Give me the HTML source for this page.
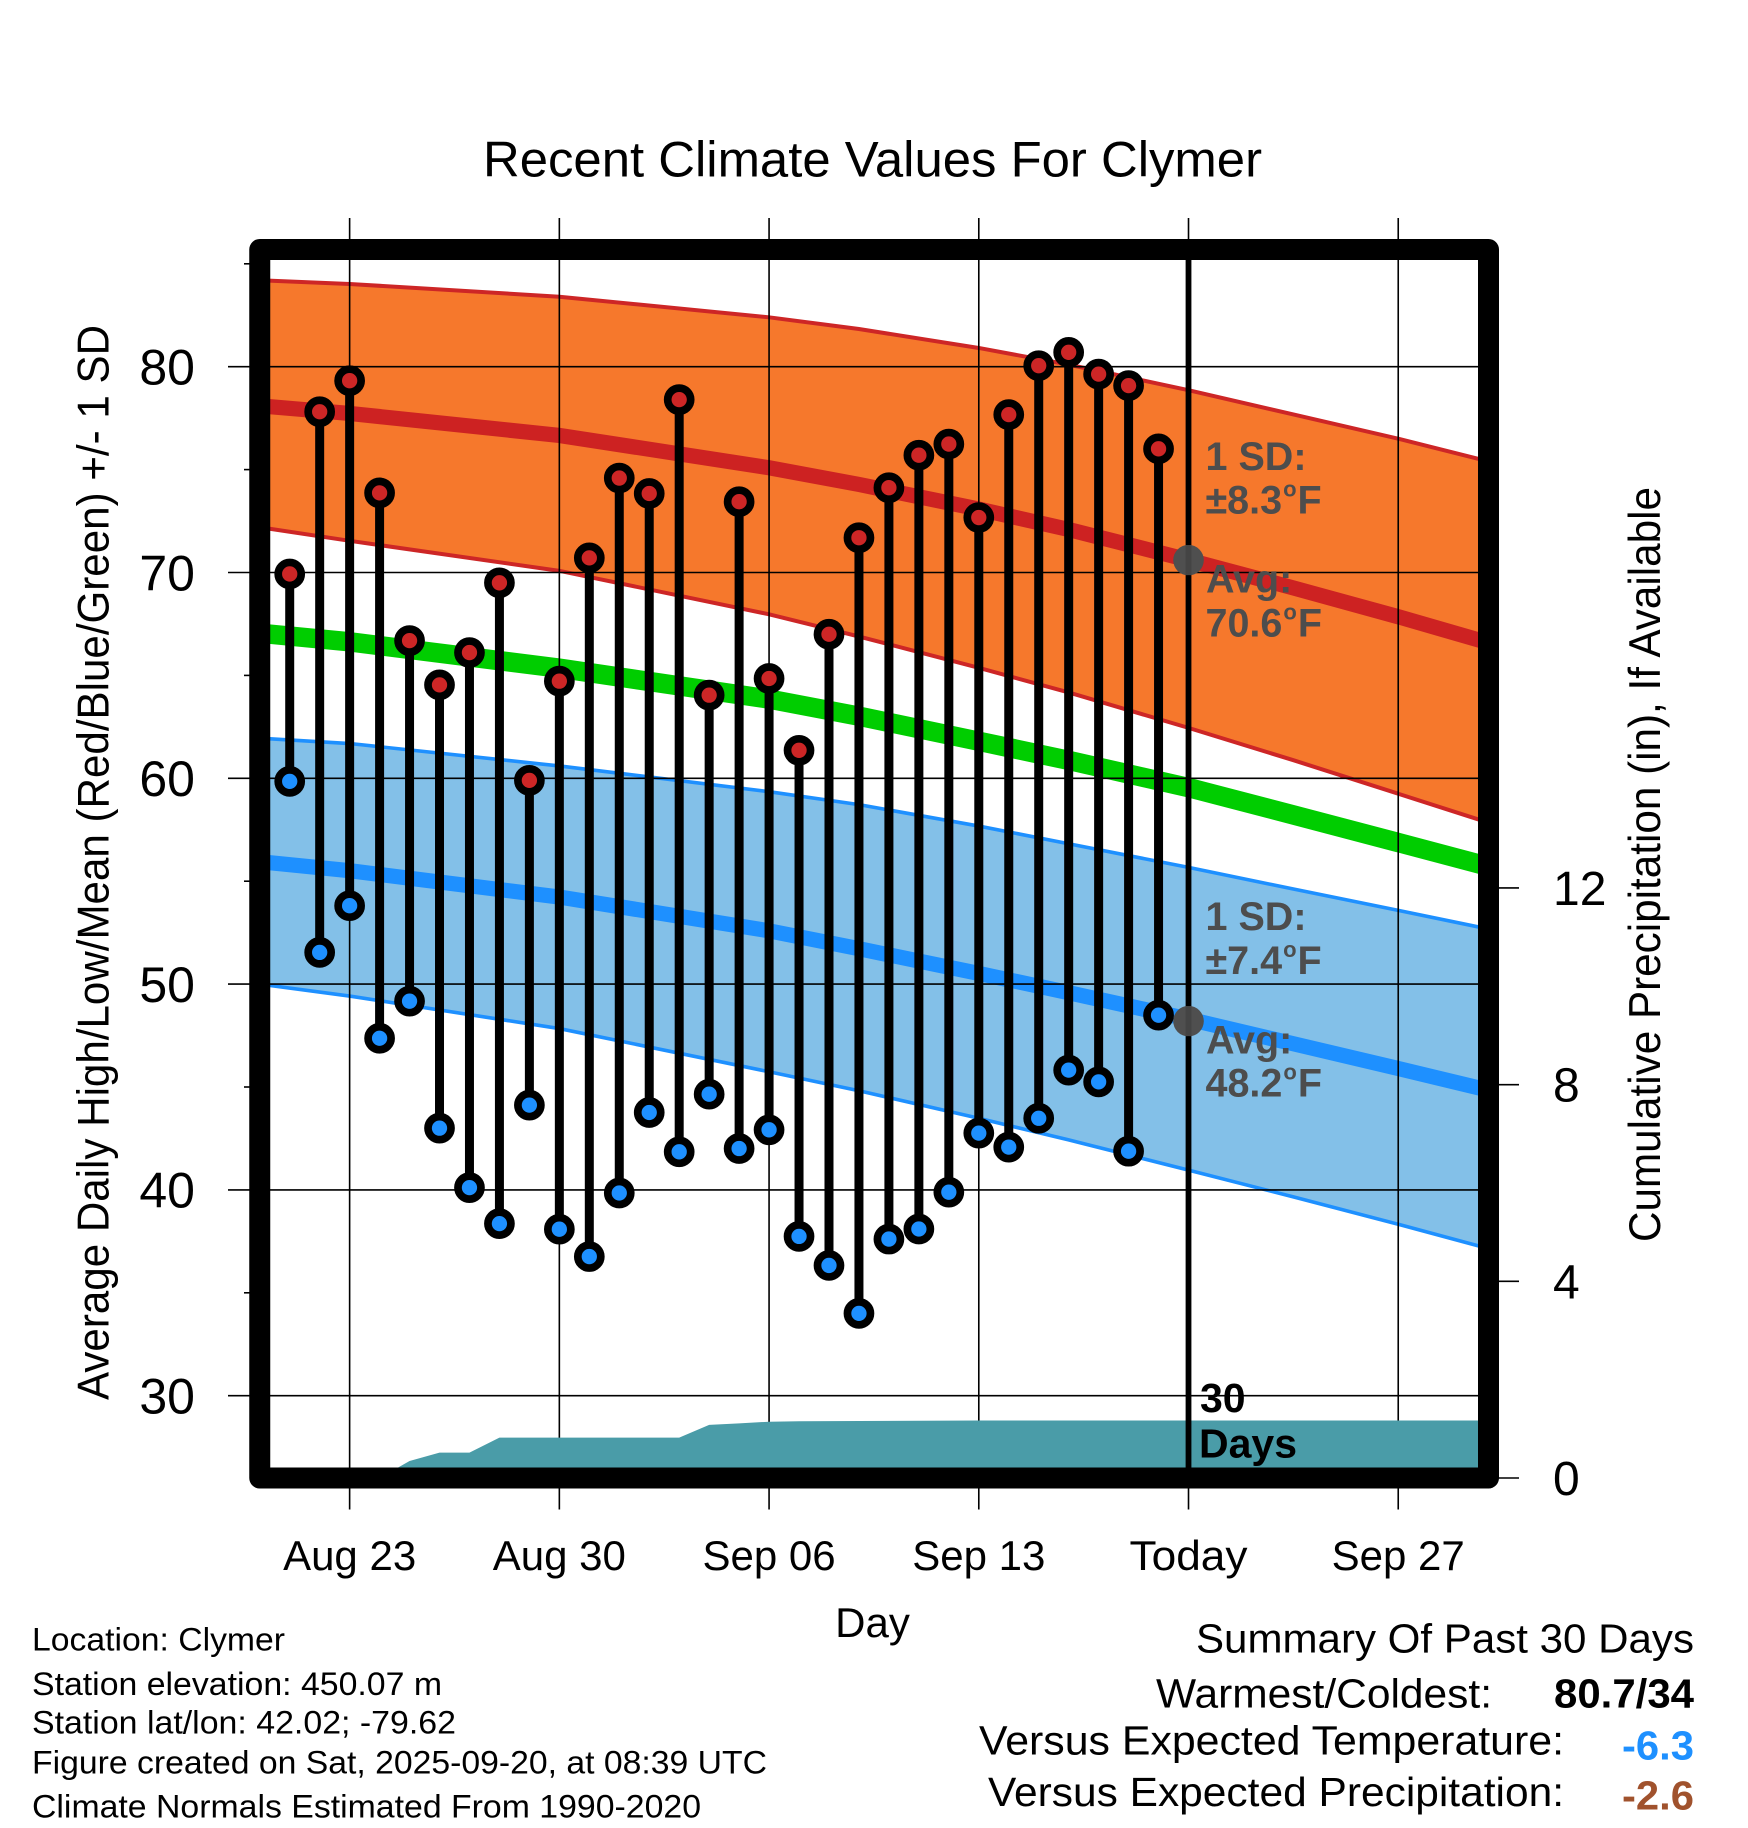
<!DOCTYPE html>
<html lang="en">
<head>
<meta charset="utf-8">
<title>Recent Climate Values For Clymer</title>
<style>
html,body{margin:0;padding:0;background:#fff;}
svg{display:block;}
text{font-family:"Liberation Sans",Arial,Helvetica,sans-serif;fill:#000;}
.anno{font-weight:bold;font-size:39.5px;fill:#4d4d4d;}
</style>
</head>
<body>
<svg id="chart" xmlns="http://www.w3.org/2000/svg" width="1748" height="1828" viewBox="0 0 1748 1828">
  <rect x="0" y="0" width="1748" height="1828" fill="#ffffff"/>
  <g id="marks"></g>
  <rect x="259.75" y="249.5" width="1228.75" height="1228.5" fill="none" stroke="#000" stroke-width="21" stroke-linejoin="round"/>
  <g id="labels"></g>

  <text x="483" y="176.5" font-size="50.4" textLength="779" lengthAdjust="spacingAndGlyphs">Recent Climate Values For Clymer</text>
  <text x="872.5" y="1637" font-size="42" text-anchor="middle">Day</text>
  <text transform="translate(108.3 1400) rotate(-90)" font-size="44.5" textLength="1075" lengthAdjust="spacingAndGlyphs">Average Daily High/Low/Mean (Red/Blue/Green) +/- 1 SD</text>
  <text transform="translate(1660 1242) rotate(-90)" font-size="44.5" textLength="755" lengthAdjust="spacingAndGlyphs">Cumulative Precipitation (in), If Available</text>

  <text class="anno" x="1205.5" y="470">1 SD:</text>
  <text class="anno" x="1205.5" y="513.3">±8.3<tspan font-size="22" dy="-17" dx="1">o</tspan><tspan dy="17" dx="1">F</tspan></text>
  <text class="anno" x="1206" y="592.7">Avg:</text>
  <text class="anno" x="1205.5" y="636.7">70.6<tspan font-size="22" dy="-17" dx="1">o</tspan><tspan dy="17" dx="1">F</tspan></text>
  <text class="anno" x="1205.5" y="930">1 SD:</text>
  <text class="anno" x="1205.5" y="974">±7.4<tspan font-size="22" dy="-17" dx="1">o</tspan><tspan dy="17" dx="1">F</tspan></text>
  <text class="anno" x="1206" y="1053.3">Avg:</text>
  <text class="anno" x="1205.5" y="1096.7">48.2<tspan font-size="22" dy="-17" dx="1">o</tspan><tspan dy="17" dx="1">F</tspan></text>

  <text x="1200" y="1412" font-size="41" font-weight="bold">30</text>
  <text x="1199" y="1457.6" font-size="41" font-weight="bold">Days</text>

  <text x="32" y="1650.7" font-size="32" textLength="253" lengthAdjust="spacingAndGlyphs">Location: Clymer</text>
  <text x="32" y="1695" font-size="32" textLength="410" lengthAdjust="spacingAndGlyphs">Station elevation: 450.07 m</text>
  <text x="32" y="1733.3" font-size="32" textLength="424" lengthAdjust="spacingAndGlyphs">Station lat/lon: 42.02; -79.62</text>
  <text x="32" y="1773.3" font-size="32" textLength="735" lengthAdjust="spacingAndGlyphs">Figure created on Sat, 2025-09-20, at 08:39 UTC</text>
  <text x="32" y="1817.3" font-size="32" textLength="669" lengthAdjust="spacingAndGlyphs">Climate Normals Estimated From 1990-2020</text>

  <text x="1196" y="1652.5" font-size="41" textLength="498" lengthAdjust="spacingAndGlyphs">Summary Of Past 30 Days</text>
  <text x="1156" y="1707.4" font-size="41" textLength="336" lengthAdjust="spacingAndGlyphs">Warmest/Coldest:</text>
  <text x="1554" y="1707.4" font-size="41" font-weight="bold" textLength="140" lengthAdjust="spacingAndGlyphs">80.7/34</text>
  <text x="979" y="1754.5" font-size="41" textLength="585" lengthAdjust="spacingAndGlyphs">Versus Expected Temperature:</text>
  <text x="1622" y="1759.6" font-size="41" font-weight="bold" textLength="72" lengthAdjust="spacingAndGlyphs" style="fill:#1e90ff">-6.3</text>
  <text x="988" y="1806" font-size="41" textLength="576" lengthAdjust="spacingAndGlyphs">Versus Expected Precipitation:</text>
  <text x="1622" y="1809.4" font-size="41" font-weight="bold" textLength="72" lengthAdjust="spacingAndGlyphs" style="fill:#a0522d">-2.6</text>
</svg>
<script>
// Days are counted from Aug 20 (day 0); Sep 30 is day 41.
const dailyHighs = [69.93,77.81,79.32,73.87,66.69,64.54,66.11,69.5,59.9,64.72,70.71,74.59,73.84,78.4,64.04,73.44,64.85,61.36,67.0,71.69,74.12,75.7,76.24,72.67,77.67,80.05,80.7,79.64,79.08,76.01];
const dailyLows = [59.85,51.54,53.81,47.37,49.17,43.0,40.11,38.36,44.12,38.09,36.76,39.85,43.76,41.85,44.65,42.01,42.92,37.74,36.33,34.0,37.61,38.1,39.89,42.76,42.08,43.48,45.82,45.25,41.88,48.49];
const normalDays = [0,3,10,17,20,24,27,31,34.5,38,41];
const normalHighUpper = [84.2,84.02,83.4,82.4,81.83,80.91,80.1,78.86,77.68,76.5,75.4];
const normalHighMean = [78.1,77.73,76.66,75.09,74.28,73.08,72.09,70.61,69.25,67.85,66.59];
const normalHighLower = [72.2,71.54,70.08,67.97,66.89,65.37,64.17,62.45,60.88,59.25,57.85];
const normalAvgMean = [67.05,66.63,65.35,63.85,63.02,61.8,60.87,59.55,58.22,56.88,55.72];
const normalLowUpper = [61.95,61.69,60.6,59.35,58.72,57.68,56.82,55.67,54.62,53.58,52.68];
const normalLowMean = [55.95,55.51,54.23,52.59,51.72,50.52,49.58,48.3,47.1,45.9,44.85];
const normalLowLower = [50.0,49.42,47.84,45.74,44.82,43.48,42.43,40.96,39.66,38.33,37.15];
const precipDays = [0,4,5,6,7,8,14,15,16,17,18,24,41];
const precipValues = [0,0,0.346,0.515,0.515,0.82,0.82,1.08,1.11,1.145,1.155,1.17,1.17];
const dateTickDays = [3,10,17,24,31,38];
const dateTickLabels = ['Aug 23','Aug 30','Sep 06','Sep 13','Today','Sep 27'];
const tempMajorTicks = [30,40,50,60,70,80];
const tempMinorTicks = [35,45,55,65,75,85];
const precipTicks = [0,4,8,12];
const todayDay = 31;
const todayHighAvg = 70.6;
const todayLowAvg = 48.2;

const X0 = 259.75, DAY_PX = 29.96;
const Y80 = 366.7, DEG_PX = 20.58;
const Y_ZERO = 1478, IN_PX = 49.17;
function xScale(d){ return X0 + d * DAY_PX; }
function yTemp(v){ return Y80 + (80 - v) * DEG_PX; }
function yPrecip(v){ return Y_ZERO - v * IN_PX; }

const NS = 'http://www.w3.org/2000/svg';
const marks = document.getElementById('marks');
const labels = document.getElementById('labels');
function make(tag, parent, attrs){
  const el = document.createElementNS(NS, tag);
  for (const k in attrs) el.setAttribute(k, attrs[k]);
  parent.appendChild(el);
  return el;
}
function linePts(days, vals, yf){
  return days.map((d,i)=> xScale(d).toFixed(2)+','+yf(vals[i]).toFixed(2)).join(' ');
}
function bandPts(days, top, bot){
  return linePts(days, top, yTemp) + ' ' + days.map((d,i)=> xScale(days[days.length-1-i]).toFixed(2)+','+yTemp(bot[days.length-1-i]).toFixed(2)).join(' ');
}

// Normal bands
let el = make('polygon', marks, {points: bandPts(normalDays, normalHighUpper, normalHighLower), fill:'#f6782c'});


el = make('polyline', marks, {points: linePts(normalDays, normalHighUpper, yTemp), fill:'none', stroke:'#cd2626', 'stroke-width':4});


el = make('polyline', marks, {points: linePts(normalDays, normalHighLower, yTemp), fill:'none', stroke:'#cd2626', 'stroke-width':4});


el = make('polygon', marks, {points: bandPts(normalDays, normalLowUpper, normalLowLower), fill:'#83c0e8'});


el = make('polyline', marks, {points: linePts(normalDays, normalLowUpper, yTemp), fill:'none', stroke:'#1e90ff', 'stroke-width':3.6});


el = make('polyline', marks, {points: linePts(normalDays, normalLowLower, yTemp), fill:'none', stroke:'#1e90ff', 'stroke-width':3.6});


el = make('polyline', marks, {points: linePts(normalDays, normalHighMean, yTemp), fill:'none', stroke:'#cd2222', 'stroke-width':15.2});


el = make('polyline', marks, {points: linePts(normalDays, normalAvgMean, yTemp), fill:'none', stroke:'#00cd00', 'stroke-width':19.5});


el = make('polyline', marks, {points: linePts(normalDays, normalLowMean, yTemp), fill:'none', stroke:'#1e90ff', 'stroke-width':15.2});



// Grid and ticks
dateTickDays.forEach((d, i) => {
  const g = make('line', marks, {x1:xScale(d), x2:xScale(d), y1:218, y2:1509.5, stroke:'#000', 'stroke-width':1.6});
  
  
  const t = make('text', labels, {x:xScale(d), y:1570, 'font-size':42, 'text-anchor':'middle'});
  if (dateTickLabels[i] === 'Today') { t.setAttribute('textLength', '118'); t.setAttribute('lengthAdjust', 'spacingAndGlyphs'); }
  t.textContent = dateTickLabels[i];
  
  
});
tempMajorTicks.forEach(v => {
  const g = make('line', marks, {x1:228, x2:1480, y1:yTemp(v), y2:yTemp(v), stroke:'#000', 'stroke-width':1.6});
  
  
  const t = make('text', labels, {x:195, y:yTemp(v)+17.8, 'font-size':50, 'text-anchor':'end'});
  t.textContent = String(v);
  
  
});
tempMinorTicks.forEach(v => {
  const g = make('line', marks, {x1:244, x2:252, y1:yTemp(v), y2:yTemp(v), stroke:'#000', 'stroke-width':1.6});
  
  
});
precipTicks.forEach(v => {
  const g = make('line', marks, {x1:1490, x2:1519, y1:yPrecip(v), y2:yPrecip(v), stroke:'#000', 'stroke-width':1.6});
  
  
  const t = make('text', labels, {x:1553, y:yPrecip(v)+17, 'font-size':48});
  t.textContent = String(v);
  
  
});

// Cumulative precipitation
const precipArea = linePts(precipDays, precipValues, yPrecip) + ' ' + xScale(precipDays[precipDays.length-1]) + ',' + yPrecip(0) + ' ' + xScale(precipDays[0]) + ',' + yPrecip(0);
el = make('polygon', marks, {points: precipArea, fill:'#4a9ca8'});



// Today dots and line
el = make('circle', marks, {cx:xScale(todayDay), cy:yTemp(todayHighAvg), r:15.3, fill:'#4f4f4f'});


el = make('circle', marks, {cx:xScale(todayDay), cy:yTemp(todayLowAvg), r:15.3, fill:'#4f4f4f'});


el = make('line', marks, {x1:xScale(todayDay), x2:xScale(todayDay), y1:255, y2:yTemp(todayHighAvg)-15, stroke:'#000', 'stroke-width':5.8});


el = make('line', marks, {x1:xScale(todayDay), x2:xScale(todayDay), y1:yTemp(todayHighAvg)-15, y2:yTemp(todayHighAvg)+15, stroke:'#444', 'stroke-width':5.8});


el = make('line', marks, {x1:xScale(todayDay), x2:xScale(todayDay), y1:yTemp(todayHighAvg)+15, y2:yTemp(todayLowAvg)-15, stroke:'#000', 'stroke-width':5.8});


el = make('line', marks, {x1:xScale(todayDay), x2:xScale(todayDay), y1:yTemp(todayLowAvg)-15, y2:yTemp(todayLowAvg)+15, stroke:'#444', 'stroke-width':5.8});


el = make('line', marks, {x1:xScale(todayDay), x2:xScale(todayDay), y1:yTemp(todayLowAvg)+15, y2:1470, stroke:'#000', 'stroke-width':5.8});



// Daily stems and markers
dailyHighs.forEach((h, i) => {
  const day = i + 1;
  const s = make('line', marks, {x1:xScale(day), x2:xScale(day), y1:yTemp(h), y2:yTemp(dailyLows[i]), stroke:'#000', 'stroke-width':9});
  
  
});
dailyHighs.forEach((h, i) => {
  const day = i + 1;
  const c = make('circle', marks, {cx:xScale(day), cy:yTemp(h), r:11.5, fill:'#cd2626', stroke:'#000', 'stroke-width':7.7});
  
  
  const d = make('circle', marks, {cx:xScale(day), cy:yTemp(dailyLows[i]), r:11.5, fill:'#1e90ff', stroke:'#000', 'stroke-width':7.7});
  
  
});
</script>
</body>
</html>
